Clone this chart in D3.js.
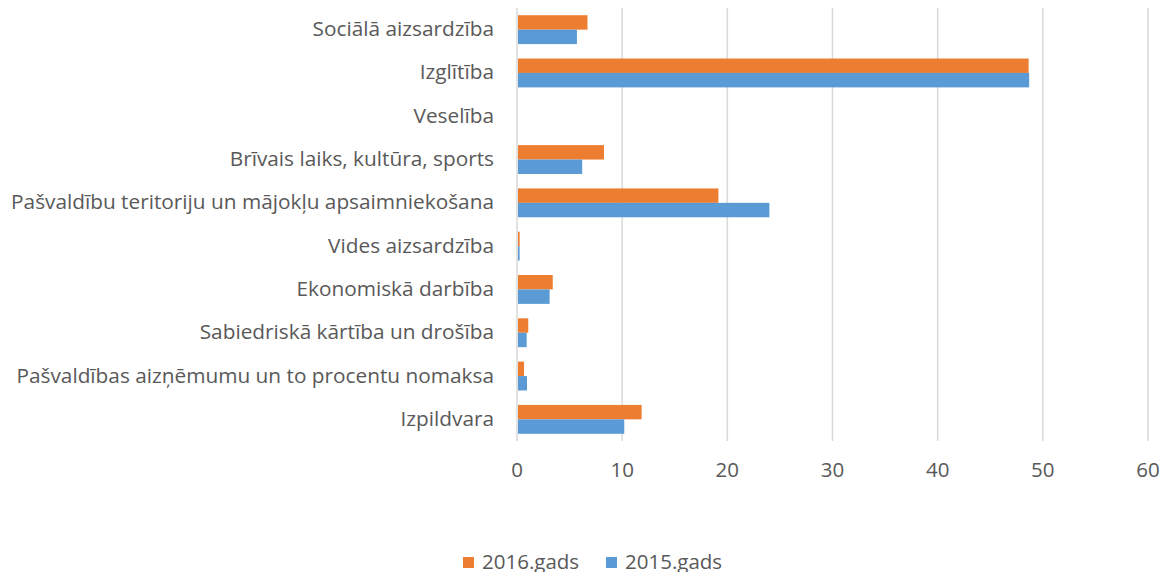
<!DOCTYPE html>
<html><head><meta charset="utf-8">
<script src="https://cdn.jsdelivr.net/npm/d3@7"></script>
<style>body{margin:0;background:#fff}svg{display:block}</style>
</head><body><svg id="c" width="1163" height="572"></svg>
<script>
const categories = ["Sociālā aizsardzība","Izglītība","Veselība","Brīvais laiks, kultūra, sports","Pašvaldību teritoriju un mājokļu apsaimniekošana","Vides aizsardzība","Ekonomiskā darbība","Sabiedriskā kārtība un drošība","Pašvaldības aizņēmumu un to procentu nomaksa","Izpildvara"];
const values2016 = [6.7, 48.65, 0, 8.27, 19.15, 0.25, 3.4, 1.07, 0.67, 11.85];
const values2015 = [5.7, 48.7, 0, 6.2, 24.0, 0.25, 3.1, 0.92, 0.95, 10.2];
const seriesNames = ["2016.gads","2015.gads"];
const seriesColors = ["#ED7D31","#5B9BD5"];
const xTicks = [0,10,20,30,40,50,60];

(function(){
const svg = d3.select("#c");
const font = "'Open Sans', sans-serif";
const mLeft = 517, mRight = 1148, mTop = 8, mBottom = 441;
const x = d3.scaleLinear().domain([0,60]).range([mLeft,mRight]);
const y = d3.scaleBand().domain(categories).range([mTop,mBottom]).paddingInner(0).paddingOuter(0);
const sub = d3.scaleBand().domain(seriesNames).range([0,y.bandwidth()]).paddingInner(0).paddingOuter(0.5);

svg.append("g").selectAll("line").data(xTicks).join("line")
  .attr("x1",d=>x(d)).attr("x2",d=>x(d)).attr("y1",mTop).attr("y2",mBottom)
  .attr("stroke","#D9D9D9").attr("stroke-width",1.5);

const series = [values2016, values2015];
series.forEach((vals,si)=>{
  svg.append("g").selectAll("rect").data(vals).join("rect")
    .attr("x",x(0)+1)
    .attr("y",(d,i)=>y(categories[i])+sub(seriesNames[si]))
    .attr("width",d=>Math.max(0,x(d)-x(0)-1))
    .attr("height",sub.bandwidth())
    .attr("fill",seriesColors[si]);
});

svg.append("g").selectAll("text").data(categories).join("text")
  .attr("x",494).attr("y",d=>y(d)+y.bandwidth()/2-1.5)
  .attr("text-anchor","end").attr("dominant-baseline","central")
  .attr("font-family",font).attr("font-size",20.8).attr("fill","#595959")
  .text(d=>d);

svg.append("g").selectAll("text").data(xTicks).join("text")
  .attr("x",d=>x(d)).attr("y",469)
  .attr("text-anchor","middle").attr("dominant-baseline","central")
  .attr("font-family",font).attr("font-size",20.5).attr("fill","#595959")
  .text(d=>d);

const legX = [463,606];
const lg = svg.append("g");
seriesNames.forEach((n,i)=>{
  lg.append("rect").attr("x",legX[i]).attr("y",557).attr("width",11).attr("height",11).attr("fill",seriesColors[i]);
  lg.append("text").attr("x",legX[i]+19).attr("y",561).attr("dominant-baseline","central")
    .attr("font-family",font).attr("font-size",20.5).attr("fill","#595959").text(n);
});
})();
</script></body></html>
